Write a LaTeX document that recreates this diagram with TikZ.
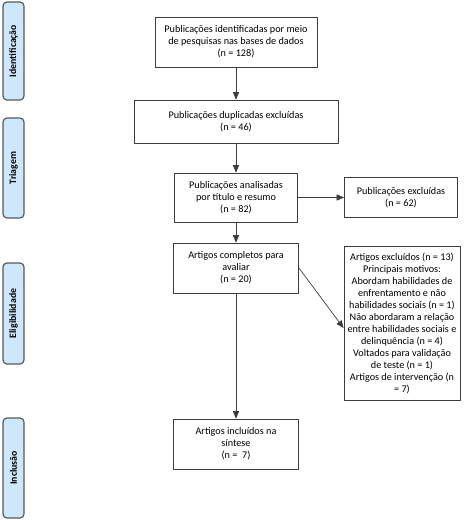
\documentclass[tikz,border=0pt]{standalone}
\usepackage{fontspec}
\setmainfont{Carlito}
\usetikzlibrary{arrows}
\definecolor{fasebg}{RGB}{207,231,250}
\definecolor{linha}{RGB}{60,60,60}
\tikzset{
  caixa/.style={draw=linha,line width=0.9pt,fill=white,align=center,inner sep=1pt,font=\fontsize{10.2}{12}\selectfont},
  fase/.style={draw=linha!85,line width=1.2pt,fill=fasebg,rounded corners=4pt,rotate=90,minimum height=21pt,font=\bfseries\fontsize{9.8}{11}\selectfont},
  seta/.style={->,draw=linha,line width=0.7pt}
}

\begin{document}
\begin{tikzpicture}[line cap=round,line join=round,>=triangle 45,x=1pt,y=-1pt]
\useasboundingbox (0,0) rectangle (470,520);
% fases
\node[fase,minimum width=98pt] (identificacao) at (13.5,51) {Identificação};
\node[fase,minimum width=100pt] (triagem) at (13.5,168) {Triagem};
\node[fase,minimum width=101pt] (elegibilidade) at (13.5,313.5) {Eligibilidade};
\node[fase,minimum width=100pt] (inclusao) at (13.5,468) {Inclusão};
% caixas
\node[caixa,minimum width=162pt,minimum height=50pt] (ident) at (236,42) {Publicações identificadas por meio\\de pesquisas nas bases de dados\\(n = 128)};
\node[caixa,minimum width=204pt,minimum height=43pt] (dup) at (236,121.5) {Publicações duplicadas excluídas\\(n = 46)};
\node[caixa,minimum width=123pt,minimum height=49pt] (titulo) at (236,197.5) {Publicações analisadas\\por título e resumo\\(n = 82)};
\node[caixa,minimum width=113pt,minimum height=40pt] (excl) at (401,197.5) {Publicações excluídas\\(n = 62)};
\node[caixa,minimum width=125pt,minimum height=50pt] (completos) at (236,268) {Artigos completos para\\avaliar\\(n = 20)};
\node[caixa,minimum width=116pt,minimum height=154pt] (exclart) at (402,323) {Artigos excluídos (n = 13)\\Principais motivos:\\Abordam habilidades de\\enfrentamento e não\\habilidades sociais (n = 1)\\Não abordaram a relação\\entre habilidades sociais e\\delinquência (n = 4)\\Voltados para validação\\de teste (n = 1)\\Artigos de intervenção (n\\= 7)};
\node[caixa,minimum width=125pt,minimum height=50pt] (incl) at (236,444) {Artigos incluídos na\\síntese\\(n =\ \ 7)};
% setas
\draw[seta] (ident) -- (dup);
\draw[seta] (dup) -- (titulo);
\draw[seta] (titulo) -- (excl);
\draw[seta] (titulo) -- (completos);
\draw[seta] (completos) -- (incl);
\draw[seta] (completos.east) -- ([yshift=-5pt]exclart.west);
\end{tikzpicture}
\end{document}
